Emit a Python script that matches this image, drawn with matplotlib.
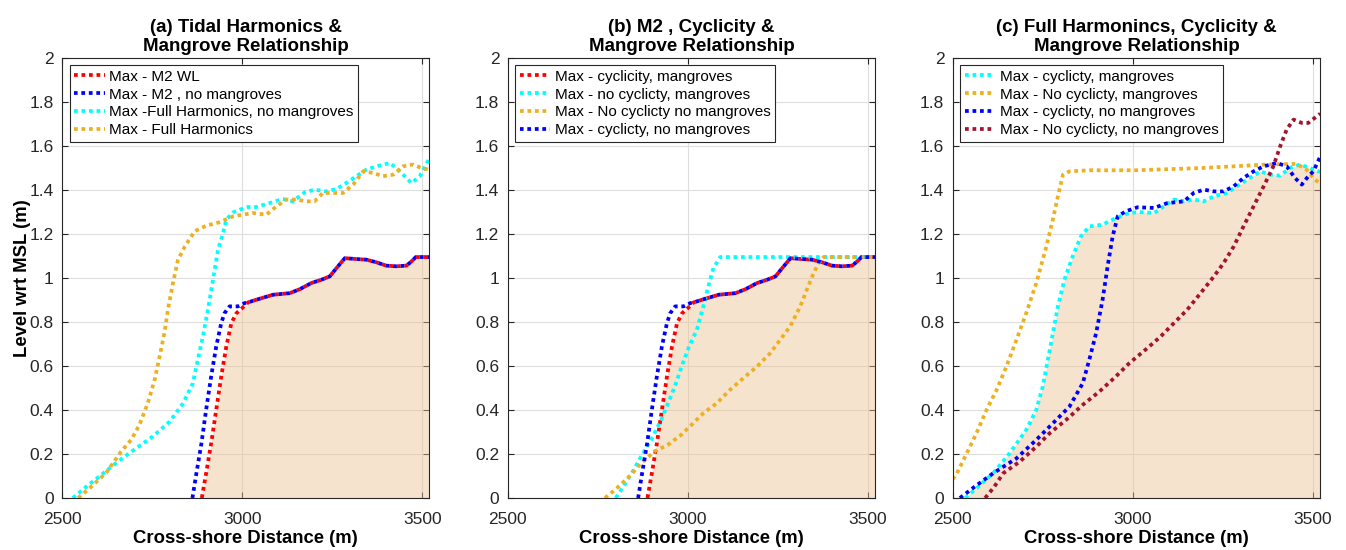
import matplotlib
matplotlib.use("Agg")
import matplotlib.pyplot as plt
import numpy as np
from matplotlib.ticker import FormatStrFormatter

plt.rcParams['font.family'] = ['Liberation Sans', 'DejaVu Sans']

# ---- panel (a) / (b) shared M2 curves ----
m2_x = [2888, 2900, 2914, 2928, 2942, 2956, 2970, 2984, 3000, 3016, 3039, 3086, 3132, 3160,
        3192, 3220, 3243, 3262, 3285, 3308, 3345, 3373, 3400, 3428, 3456, 3470, 3482, 3520]
m2_y = [0, 0.112, 0.248, 0.40, 0.552, 0.688, 0.794, 0.839, 0.862, 0.888, 0.90, 0.923, 0.93, 0.948,
        0.976, 0.991, 1.006, 1.044, 1.089, 1.086, 1.082, 1.07, 1.055, 1.052, 1.055, 1.074, 1.094, 1.094]

m2_nomang_x = [2862, 2873, 2887, 2900, 2914, 2928, 2942, 2951, 2965, 2988, 3007, 3016, 3039, 3086,
               3132, 3160, 3192, 3220, 3243, 3262, 3285, 3308, 3345, 3373, 3400, 3428, 3456, 3470,
               3482, 3520]
m2_nomang_y = [0, 0.112, 0.248, 0.40, 0.552, 0.688, 0.794, 0.839, 0.87, 0.87, 0.885, 0.888, 0.90, 0.923,
               0.93, 0.948, 0.976, 0.991, 1.006, 1.044, 1.089, 1.086, 1.082, 1.07, 1.055, 1.052, 1.055, 1.074,
               1.094, 1.094]

# ---- panel (a) full harmonics ----
fh_nomang_x = [2530, 2570, 2613, 2655, 2706, 2752, 2799, 2836, 2863, 2877, 2891, 2905, 2919, 2933,
               2947, 2956, 2975, 2993, 3016, 3039, 3076, 3113, 3141, 3174, 3201, 3234, 3262, 3289,
               3317, 3345, 3373, 3410, 3433, 3456, 3470, 3493, 3520]
fh_nomang_y = [0, 0.055, 0.11, 0.165, 0.226, 0.279, 0.347, 0.43, 0.52, 0.627, 0.733, 0.855, 0.99, 1.127,
               1.203, 1.264, 1.297, 1.309, 1.321, 1.321, 1.339, 1.358, 1.347, 1.388, 1.40, 1.392, 1.403, 1.43,
               1.461, 1.491, 1.506, 1.521, 1.491, 1.453, 1.43, 1.461, 1.544]

fh_x = [2545, 2580, 2623, 2664, 2692, 2715, 2738, 2757, 2771, 2785, 2794, 2808, 2822, 2841, 2868,
        2900, 2937, 2975, 3030, 3067, 3095, 3123, 3150, 3178, 3201, 3224, 3257, 3280, 3308, 3336,
        3363, 3391, 3419, 3447, 3474, 3498, 3520]
fh_y = [0, 0.05, 0.115, 0.211, 0.264, 0.332, 0.43, 0.536, 0.642, 0.756, 0.855, 0.976, 1.082, 1.142, 1.211,
        1.236, 1.252, 1.279, 1.294, 1.286, 1.324, 1.355, 1.355, 1.347, 1.347, 1.385, 1.385, 1.385, 1.423, 1.483,
        1.476, 1.461, 1.468, 1.506, 1.514, 1.498, 1.49]

# ---- panel (b) no cyclicity ----
b_nocyc_mang_x = [2800, 2820, 2847, 2870, 2898, 2926, 2949, 2967, 2986, 3004, 3025, 3043, 3057, 3071, 3090, 3520]
b_nocyc_mang_y = [0, 0.05, 0.12, 0.188, 0.264, 0.355, 0.445, 0.521, 0.612, 0.69, 0.764, 0.87, 0.961, 1.044, 1.094, 1.094]

b_nocyc_nomang_x = [2770, 2800, 2842, 2870, 2907, 2944, 2981, 3012, 3043, 3080, 3117, 3154, 3192, 3229,
                    3256, 3284, 3312, 3330, 3349, 3363, 3377, 3520]
b_nocyc_nomang_y = [0, 0.04, 0.105, 0.158, 0.211, 0.241, 0.286, 0.335, 0.385, 0.43, 0.491, 0.544, 0.597, 0.658,
                    0.718, 0.779, 0.87, 0.945, 1.021, 1.067, 1.094, 1.094]

# ---- panel (c) full harmonics + cyclicity ----
c_cyc_mang_x = [2535, 2570, 2612, 2658, 2704, 2732, 2750, 2764, 2778, 2792, 2810, 2833, 2856, 2879, 2916,
                2953, 2990, 3017, 3059, 3086, 3114, 3142, 3169, 3197, 3225, 3261, 3289, 3317, 3354, 3381,
                3409, 3436, 3464, 3492, 3520]
c_cyc_mang_y = [0, 0.05, 0.112, 0.203, 0.309, 0.4, 0.506, 0.627, 0.748, 0.87, 0.991, 1.097, 1.188, 1.233, 1.241,
                1.271, 1.294, 1.298, 1.294, 1.324, 1.355, 1.347, 1.355, 1.347, 1.37, 1.385, 1.415, 1.445, 1.483, 1.468,
                1.464, 1.498, 1.514, 1.498, 1.48]

c_nocyc_mang_x = [2500, 2511, 2539, 2566, 2594, 2622, 2649, 2677, 2704, 2732, 2760, 2778, 2792, 2806, 2824,
                  2880, 3008, 3188, 3372, 3455, 3482, 3505, 3520]
c_nocyc_mang_y = [0.085, 0.11, 0.203, 0.294, 0.4, 0.491, 0.597, 0.718, 0.839, 0.976, 1.142, 1.264, 1.37, 1.468, 1.483,
                  1.488, 1.488, 1.498, 1.514, 1.517, 1.491, 1.445, 1.43]

c_cyc_nomang_x = [2520, 2560, 2612, 2677, 2732, 2778, 2824, 2861, 2879, 2898, 2916, 2930, 2944, 2958, 2981,
                  3013, 3059, 3096, 3142, 3169, 3197, 3225, 3252, 3280, 3307, 3335, 3363, 3400, 3427, 3450,
                  3469, 3487, 3501, 3520]
c_cyc_nomang_y = [0, 0.05, 0.112, 0.18, 0.264, 0.339, 0.415, 0.521, 0.627, 0.748, 0.9, 1.052, 1.188, 1.279, 1.302,
                  1.32, 1.317, 1.339, 1.347, 1.385, 1.4, 1.392, 1.392, 1.415, 1.453, 1.483, 1.506, 1.521, 1.506, 1.453,
                  1.423, 1.461, 1.483, 1.55]

c_nocyc_nomang_x = [2590, 2615, 2640, 2686, 2732, 2769, 2815, 2861, 2907, 2953, 2990, 3040, 3077, 3114, 3151,
                    3188, 3225, 3252, 3280, 3307, 3335, 3363, 3390, 3409, 3427, 3446, 3469, 3487, 3520]
c_nocyc_nomang_y = [0, 0.05, 0.112, 0.165, 0.233, 0.294, 0.355, 0.423, 0.483, 0.552, 0.612, 0.68, 0.733, 0.794, 0.855,
                    0.93, 1.006, 1.067, 1.142, 1.233, 1.324, 1.415, 1.506, 1.597, 1.673, 1.718, 1.703, 1.703, 1.745]

titles = ["(a) Tidal Harmonics &\nMangrove Relationship",
          "(b) M2 , Cyclicity &\nMangrove Relationship",
          "(c) Full Harmonincs, Cyclicity &\nMangrove Relationship"]

RED = '#FF0000'
BLUE = '#0000FF'
CYAN = '#00FFFF'
ORANGE = '#EDB120'
DARKRED = '#A2142F'
FILL = '#EDC393'
LS = (0, (1, 1))
LW = 2.7

fig = plt.figure(figsize=(13.46, 5.5), dpi=100)
lefts = [62 / 1346, 507.7 / 1346, 952.7 / 1346]
axes = [fig.add_axes([l, 52 / 550, 367.5 / 1346, 440.5 / 550]) for l in lefts]
for ax in axes:
    ax.set_xlim(2500, 3520)
    ax.set_ylim(0, 2)


def arc_pts(ax, xs, ys, x_end):
    # path length (in points) from the start of a line up to x_end
    n = list(xs).index(x_end) + 1
    p = ax.transData.transform(np.column_stack([xs[:n], ys[:n]]))
    return np.hypot(np.diff(p[:, 0]), np.diff(p[:, 1])).sum() * 72 / fig.dpi


def shifted_style(ax):
    # dash offset so the blue dots fall into the gaps of the red line where they overlap
    la = arc_pts(ax, m2_x, m2_y, 3039)
    lb = arc_pts(ax, m2_nomang_x, m2_nomang_y, 3039)
    off = ((la - lb + LW) % (2 * LW)) / LW
    return (off, (1, 1))


# (a)
ax = axes[0]
ax.fill_between(m2_x, m2_y, 0, color=FILL, alpha=0.45, lw=0, zorder=1)
ax.plot(m2_x, m2_y, color=RED, ls=LS, lw=LW, label='Max - M2 WL')
ax.plot(m2_nomang_x, m2_nomang_y, color=BLUE, ls=shifted_style(ax), lw=LW, label='Max - M2 , no mangroves')
ax.plot(fh_nomang_x, fh_nomang_y, color=CYAN, ls=LS, lw=LW, label='Max -Full Harmonics, no mangroves')
ax.plot(fh_x, fh_y, color=ORANGE, ls=LS, lw=LW, label='Max - Full Harmonics')

# (b)
ax = axes[1]
ax.fill_between(m2_x, m2_y, 0, color=FILL, alpha=0.45, lw=0, zorder=1)
ax.plot(m2_x, m2_y, color=RED, ls=LS, lw=LW, label='Max - cyclicity, mangroves')
ax.plot(b_nocyc_mang_x, b_nocyc_mang_y, color=CYAN, ls=LS, lw=LW, label='Max - no cyclicty, mangroves')
ax.plot(b_nocyc_nomang_x, b_nocyc_nomang_y, color=ORANGE, ls=LS, lw=LW, label='Max - No cyclicty no mangroves')
ax.plot(m2_nomang_x, m2_nomang_y, color=BLUE, ls=shifted_style(ax), lw=LW, label='Max - cyclicty, no mangroves')

# (c)
ax = axes[2]
ax.fill_between(c_cyc_mang_x, c_cyc_mang_y, 0, color=FILL, alpha=0.45, lw=0, zorder=1)
ax.plot(c_cyc_mang_x, c_cyc_mang_y, color=CYAN, ls=LS, lw=LW, label='Max - cyclicty, mangroves')
ax.plot(c_nocyc_mang_x, c_nocyc_mang_y, color=ORANGE, ls=LS, lw=LW, label='Max - No cyclicty, mangroves')
ax.plot(c_cyc_nomang_x, c_cyc_nomang_y, color=BLUE, ls=LS, lw=LW, label='Max - cyclicty, no mangroves')
ax.plot(c_nocyc_nomang_x, c_nocyc_nomang_y, color=DARKRED, ls=LS, lw=LW, label='Max - No cyclicty, no mangroves')

for i, ax in enumerate(axes):
    ax.set_xticks([2500, 3000, 3500])
    ax.set_yticks([0, 0.2, 0.4, 0.6, 0.8, 1, 1.2, 1.4, 1.6, 1.8, 2])
    ax.yaxis.set_major_formatter(FormatStrFormatter('%g'))
    ax.grid(True, color='#DEDEDE', lw=0.8)
    ax.set_axisbelow(True)
    ax.tick_params(direction='in', top=True, right=True, length=4, width=0.8,
                   colors='#262626', labelsize=12.5)
    ax.tick_params(axis='x', pad=10)
    ax.tick_params(axis='y', pad=6)
    for s in ax.spines.values():
        s.set_color('#262626')
        s.set_linewidth(0.8)
    ax.set_title(titles[i], fontsize=13.5, fontweight='bold', pad=5, linespacing=1.15)
    ax.set_xlabel('Cross-shore Distance (m)', fontsize=13.3, fontweight='bold', labelpad=2)
    leg = ax.legend(loc='upper left', fontsize=11, handlelength=2.0, handletextpad=0.3,
                    borderaxespad=0.5, borderpad=0.3, labelspacing=0.25, fancybox=False,
                    framealpha=1)
    leg.get_frame().set_edgecolor('#262626')
    leg.get_frame().set_linewidth(0.8)

axes[0].set_ylabel('Level wrt MSL (m)', fontsize=13.3, fontweight='bold', labelpad=-1)

fig.savefig('out.png', dpi=100)
